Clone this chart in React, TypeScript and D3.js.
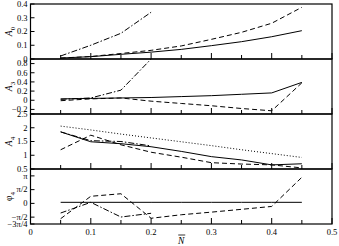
import React from "react";
import * as d3 from "d3";

// N-bar values where the curves were sampled
const nBar = [0.05, 0.1, 0.15, 0.2, 0.25, 0.3, 0.35, 0.4, 0.45];
const nBarShort = [0.05, 0.1, 0.15, 0.2];

// A0
const a0Solid = [0.007, 0.017, 0.034, 0.05, 0.07, 0.097, 0.126, 0.162, 0.206];
const a0Dashed = [0.007, 0.018, 0.04, 0.063, 0.095, 0.143, 0.194, 0.26, 0.376];
const a0DashDot = [0.022, 0.1, 0.187, 0.34];

// A3
const a3Solid = [0.03, 0.04, 0.05, 0.06, 0.08, 0.1, 0.13, 0.16, 0.39];
const a3Dashed = [-0.01, 0.03, 0.05, -0.02, -0.07, -0.12, -0.18, -0.23, 0.38];
const a3DashDot = [0.02, 0.05, 0.22, 0.9];

// A4
const a4Solid = [1.85, 1.49, 1.42, 1.31, 1.14, 0.95, 0.83, 0.65, 0.69];
const a4Dashed = [1.2, 1.73, 1.38, 1.11, 0.93, 0.73, 0.68, 0.65, 0.54];
const a4DashDot = [1.85, 1.53, 1.5, 1.34];
const a4Dotted = [2.06, 1.92, 1.77, 1.63, 1.49, 1.35, 1.2, 1.06, 0.92];

// phi4 (radians)
const phSolid = [0.12, 0.12, 0.12, 0.12, 0.12, 0.12, 0.12, 0.12, 0.12];
const phDashed = [-1.75, 0.81, 1.1, -1.7, -1.3, -1.0, -0.68, -0.35, 2.98];
const phDashDot = [-1.1, 0.12, -1.56, -1.13];

// axis ticks
const xTicks = [0, 0.1, 0.2, 0.3, 0.4, 0.5];
const xMinorTicks = [0.05, 0.15, 0.25, 0.35, 0.45];
const a0Ticks = [0, 0.1, 0.2, 0.3, 0.4];
const a3Ticks = [-0.2, 0, 0.2, 0.4, 0.6, 0.8];
const a4Ticks = [0.5, 1, 1.5, 2, 2.5];
const phTicks = [-0.75 * Math.PI, -0.5 * Math.PI, 0, 0.5 * Math.PI, Math.PI];
const phTickLabels = ["\u22123\u03c0/4", "\u2212\u03c0/2", "0", "\u03c0/2", "\u03c0"];

const DASH = "5,3";
const DASHDOT = "6,2,1.5,2";
const DOT = "1,2";

const W = 339;
const H = 246;
const left = 30.5;
const right = 332;
const tops = [4, 59, 114, 169, 224];
const font = "'Liberation Serif', 'DejaVu Serif', serif";

const fmt = (v: number) => {
  const s = d3.format("~g")(+v.toFixed(2));
  return s.replace("-", "\u2212");
};

export default function App() {
  const x = d3.scaleLinear().domain([0, 0.5]).range([left, right]);

  const panels = [
    {
      key: "a0", title: "A", sub: "0", domain: [0, 0.4], ticks: a0Ticks,
      labels: a0Ticks.map(fmt),
      series: [
        { xs: nBar, ys: a0Solid, dash: null },
        { xs: nBar, ys: a0Dashed, dash: DASH },
        { xs: nBarShort, ys: a0DashDot, dash: DASHDOT },
      ],
    },
    {
      key: "a3", title: "A", sub: "3", domain: [-0.3, 0.9], ticks: a3Ticks,
      labels: a3Ticks.map(fmt),
      series: [
        { xs: nBar, ys: a3Solid, dash: null },
        { xs: nBar, ys: a3Dashed, dash: DASH },
        { xs: nBarShort, ys: a3DashDot, dash: DASHDOT },
      ],
    },
    {
      key: "a4", title: "A", sub: "4", domain: [0.5, 2.5], ticks: a4Ticks,
      labels: a4Ticks.map(fmt),
      series: [
        { xs: nBar, ys: a4Dotted, dash: DOT },
        { xs: nBar, ys: a4Solid, dash: null },
        { xs: nBar, ys: a4Dashed, dash: DASH },
        { xs: nBarShort, ys: a4DashDot, dash: DASHDOT },
      ],
    },
    {
      key: "ph", title: "\u03c6", sub: "4", domain: [-0.75 * Math.PI, 1.25 * Math.PI], ticks: phTicks,
      labels: phTickLabels,
      series: [
        { xs: nBar, ys: phSolid, dash: null },
        { xs: nBar, ys: phDashed, dash: DASH },
        { xs: nBarShort, ys: phDashDot, dash: DASHDOT },
      ],
    },
  ];

  return (
    <svg width={W} height={H} style={{ display: "block", position: "absolute", left: 0, top: 0, background: "#fff" }}
      fontFamily={font} fontSize={8.5}>
      <defs>
        {panels.map((p, i) => (
          <clipPath id={"clip-" + p.key} key={p.key}>
            <rect x={left} y={tops[i]} width={right - left} height={tops[i + 1] - tops[i]} />
          </clipPath>
        ))}
      </defs>
      {panels.map((p, i) => {
        const y = d3.scaleLinear().domain(p.domain).range([tops[i + 1], tops[i]]);
        const line = d3.line<number>().x((d, j) => x(d)).y((d, j) => 0);
        const mid = (tops[i] + tops[i + 1]) / 2;
        return (
          <g key={p.key}>
            <g clipPath={`url(#clip-${p.key})`}>
              {p.series.map((s, k) => {
                const path = d3.line<number>()
                  .x((d) => x(d))
                  .y((d, j) => y(s.ys[j]))(s.xs);
                return (
                  <path key={k} d={path || ""} fill="none" stroke="#000" strokeWidth={1}
                    strokeDasharray={s.dash || undefined} />
                );
              })}
            </g>
            {/* x ticks on the bottom of each panel */}
            {xTicks.map((t) => (
              <line key={"xt" + t} x1={x(t)} x2={x(t)} y1={tops[i + 1]} y2={tops[i + 1] - 6} stroke="#000" strokeWidth={1} />
            ))}
            {xMinorTicks.map((t) => (
              <line key={"xm" + t} x1={x(t)} x2={x(t)} y1={tops[i + 1]} y2={tops[i + 1] - 4} stroke="#000" strokeWidth={1} />
            ))}
            {/* y ticks and labels */}
            {p.ticks.map((t, k) => (
              <g key={"yt" + k}>
                <line x1={left} x2={left + 4} y1={y(t)} y2={y(t)} stroke="#000" strokeWidth={1} />
                <text x={left - 3} y={y(t)} dy="0.33em" textAnchor="end">{p.labels[k]}</text>
              </g>
            ))}
            <rect x={left} y={tops[i]} width={right - left} height={tops[i + 1] - tops[i]}
              fill="none" stroke="#000" strokeWidth={1.2} />
            <text transform={`translate(12,${mid}) rotate(-90)`} textAnchor="middle" fontSize={9.5}>
              <tspan fontStyle={p.title === "A" ? "italic" : "normal"}>{p.title}</tspan>
              <tspan fontSize={7} dy={3}>{p.sub}</tspan>
            </text>
          </g>
        );
      })}
      {xTicks.map((t) => (
        <text key={"xl" + t} x={x(t)} y={tops[4] + 11} textAnchor="middle">{fmt(t)}</text>
      ))}
      <text x={x(0.25)} y={H - 2} textAnchor="middle" fontStyle="italic" fontSize={9.5}>N</text>
      <line x1={x(0.25) - 3} x2={x(0.25) + 4} y1={H - 11} y2={H - 11} stroke="#000" strokeWidth={0.8} />
    </svg>
  );
}
